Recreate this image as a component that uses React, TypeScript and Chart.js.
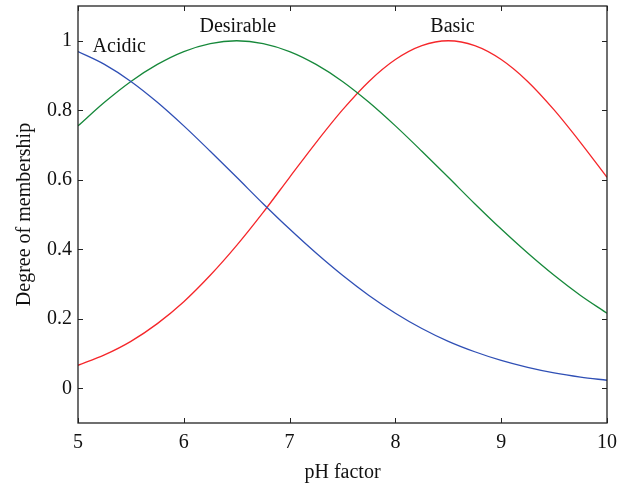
import React, { useEffect, useRef } from "react";
import { Chart, registerables } from "chart.js";

Chart.register(...registerables);

const phValues = [5, 5.25, 5.5, 5.75, 6, 6.25, 6.5, 6.75, 7, 7.25, 7.5, 7.75, 8, 8.25, 8.5, 8.75, 9, 9.25, 9.5, 9.75, 10];
const acidic = [0.969, 0.932, 0.883, 0.823, 0.755, 0.682, 0.607, 0.531, 0.458, 0.389, 0.325, 0.267, 0.216, 0.172, 0.135, 0.105, 0.080, 0.060, 0.044, 0.032, 0.023];
const desirable = [0.755, 0.823, 0.883, 0.932, 0.969, 0.992, 1.0, 0.992, 0.969, 0.932, 0.883, 0.823, 0.755, 0.682, 0.607, 0.531, 0.458, 0.389, 0.325, 0.267, 0.216];
const basic = [0.066, 0.096, 0.135, 0.186, 0.249, 0.325, 0.411, 0.506, 0.607, 0.707, 0.801, 0.883, 0.946, 0.986, 1.0, 0.986, 0.946, 0.883, 0.801, 0.707, 0.607];
const xTicks = [5, 6, 7, 8, 9, 10];
const yTicks = [0, 0.2, 0.4, 0.6, 0.8, 1];
const labelNames = ["Acidic", "Desirable", "Basic"];
const labelX = [5.39, 6.51, 8.54];
const labelY = [0.984, 1.039, 1.039];

const FONT = "'Liberation Serif', 'Times New Roman', serif";

export default function App() {
  const ref = useRef<HTMLCanvasElement | null>(null);
  useEffect(() => {
    document.body.style.margin = "0";
    const canvas = ref.current!;
    const toPts = (ys: number[]) => phValues.map((x, i) => ({ x, y: ys[i] }));
    const framePlugin = {
      id: "frame",
      afterDatasetsDraw(chart: any) {
        const { ctx, chartArea, scales } = chart;
        const { left, right, top, bottom } = chartArea;
        ctx.save();
        ctx.strokeStyle = "#222";
        ctx.lineWidth = 1.3;
        ctx.strokeRect(left, top, right - left, bottom - top);
        ctx.lineWidth = 1;
        const tl = 5;
        xTicks.forEach((v) => {
          const px = Math.round(scales.x.getPixelForValue(v)) + 0.5;
          ctx.beginPath();
          ctx.moveTo(px, bottom);
          ctx.lineTo(px, bottom - tl);
          ctx.moveTo(px, top);
          ctx.lineTo(px, top + tl);
          ctx.stroke();
        });
        yTicks.forEach((v) => {
          const py = Math.round(scales.y.getPixelForValue(v)) + 0.5;
          ctx.beginPath();
          ctx.moveTo(left, py);
          ctx.lineTo(left + tl, py);
          ctx.moveTo(right, py);
          ctx.lineTo(right - tl, py);
          ctx.stroke();
        });
        ctx.fillStyle = "#111";
        ctx.font = "20px " + FONT;
        ctx.textAlign = "center";
        ctx.textBaseline = "middle";
        labelNames.forEach((n, i) => {
          ctx.fillText(n, scales.x.getPixelForValue(labelX[i]), scales.y.getPixelForValue(labelY[i]));
        });
        ctx.restore();
      },
    };
    const chart = new Chart(canvas, {
      type: "line",
      data: {
        datasets: [
          { label: "Acidic", data: toPts(acidic), borderColor: "#2f4fb5", borderWidth: 1.3, pointRadius: 0, cubicInterpolationMode: "monotone" },
          { label: "Desirable", data: toPts(desirable), borderColor: "#16883a", borderWidth: 1.3, pointRadius: 0, cubicInterpolationMode: "monotone" },
          { label: "Basic", data: toPts(basic), borderColor: "#f5262a", borderWidth: 1.3, pointRadius: 0, cubicInterpolationMode: "monotone" },
        ],
      },
      options: {
        responsive: false,
        animation: false,
        layout: { padding: { left: 0, right: 26, top: 6, bottom: 0 } },
        plugins: { legend: { display: false }, tooltip: { enabled: false } },
        scales: {
          x: {
            type: "linear",
            min: 5,
            max: 10,
            afterBuildTicks: (s: any) => { s.ticks = xTicks.map((v) => ({ value: v })); },
            afterFit: (s: any) => { s.height = 66; s.paddingLeft = 0; s.paddingRight = 0; },
            grid: { display: false, drawTicks: false },
            border: { display: false },
            ticks: { color: "#111", font: { family: FONT, size: 20 }, padding: 8, maxRotation: 0 },
            title: { display: true, text: "pH factor", color: "#111", font: { family: FONT, size: 20 }, padding: { top: 4, bottom: 4 } },
          },
          y: {
            type: "linear",
            min: -0.1,
            max: 1.1,
            afterBuildTicks: (s: any) => { s.ticks = yTicks.map((v) => ({ value: v })); },
            afterFit: (s: any) => { s.width = 78; s.paddingTop = 0; s.paddingBottom = 0; },
            grid: { display: false, drawTicks: false },
            border: { display: false },
            ticks: { color: "#111", font: { family: FONT, size: 20 }, padding: 6, callback: (v: any) => String(Number(v.toFixed(1))) },
            title: { display: true, text: "Degree of membership", color: "#111", font: { family: FONT, size: 20 }, padding: { top: 13, bottom: 4 } },
          },
        },
      },
      plugins: [framePlugin],
    } as any);
    return () => chart.destroy();
  }, []);
  return (
    <div style={{ position: "absolute", left: 0, top: 0, width: 633, height: 489, background: "#fff" }}>
      <canvas ref={ref} width={633} height={489} />
    </div>
  );
}
